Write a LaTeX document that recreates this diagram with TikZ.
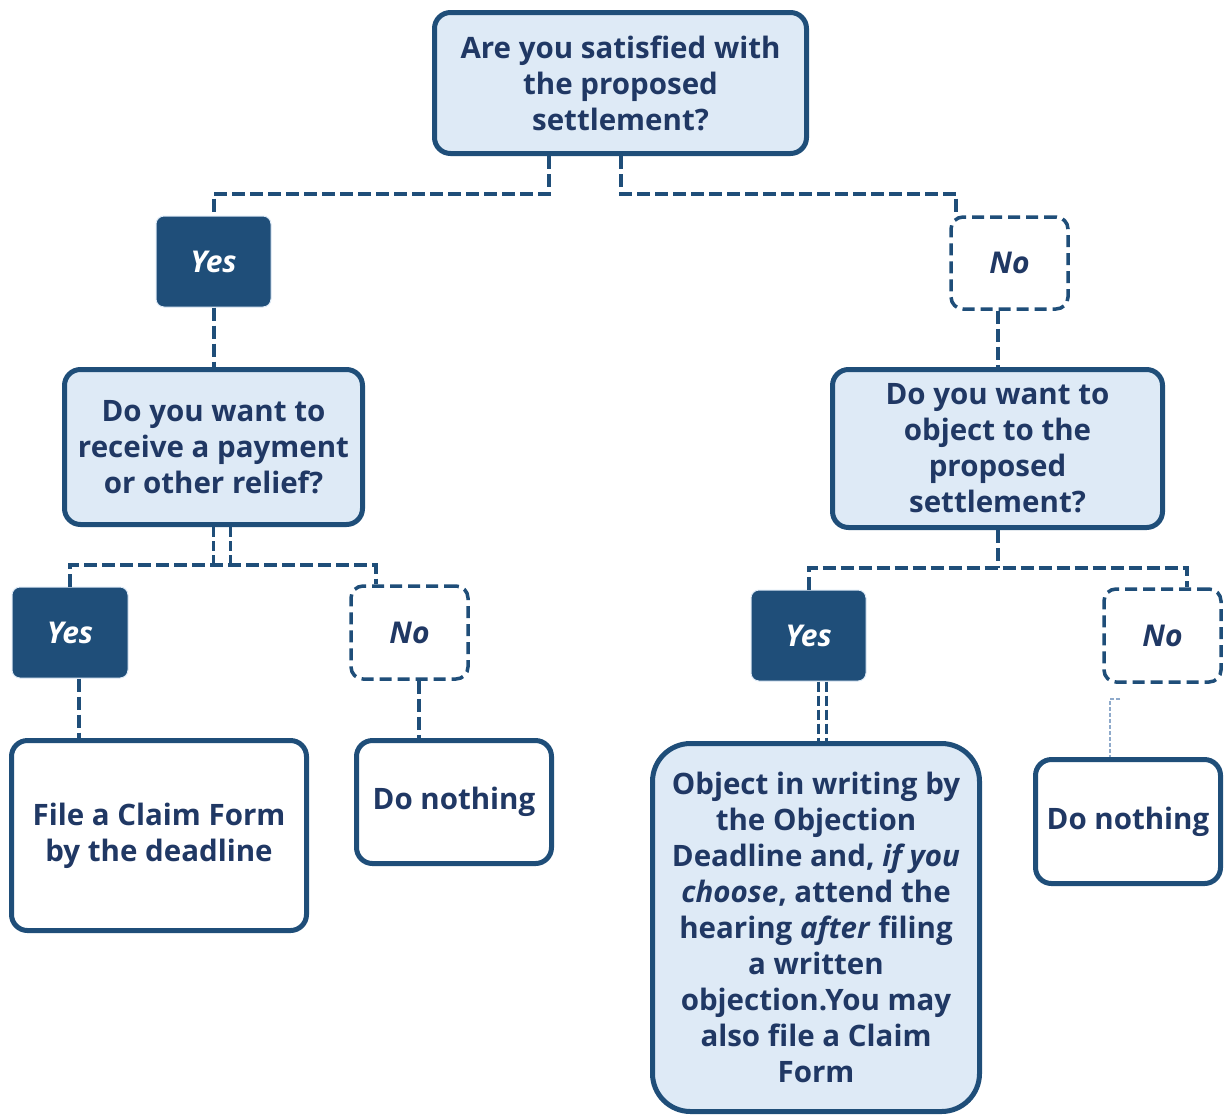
\documentclass[tikz,border=0pt]{standalone}
\usepackage{fontspec}
\setmainfont{Open Sans}
\definecolor{navy}{HTML}{1F4E79}
\definecolor{txt}{HTML}{203864}
\definecolor{lfill}{HTML}{DEEAF6}
\definecolor{thinc}{HTML}{8FAACB}
\tikzset{
  txtfont/.style={font=\bfseries\fontsize{29.5}{36}\selectfont},
  qbox/.style={draw=navy, line width=5pt, fill=lfill, rounded corners=16pt, text=txt, txtfont, align=center, inner sep=0pt},
  wbox/.style={qbox, fill=white},
  yesbox/.style={draw=lfill, line width=1pt, fill=navy, rounded corners=8pt, text=white, font=\bfseries\itshape\fontsize{30}{36}\selectfont, inner sep=0pt},
  nobox/.style={draw=navy, line width=3.5pt, dash pattern=on 12pt off 6pt, fill=white, rounded corners=12pt, text=txt, font=\bfseries\itshape\fontsize{30}{36}\selectfont, inner sep=0pt},
  conn/.style={draw=navy, line width=4pt, dash pattern=on 13pt off 5pt},
  dline/.style={draw=navy, line width=3pt, dash pattern=on 10pt off 4pt},
  thinline/.style={draw=thinc, line width=1.5pt, dash pattern=on 4pt off 2pt},
}
\begin{document}
\begin{tikzpicture}[x=1pt,y=-1pt]
\useasboundingbox (0,0) rectangle (1225,1117);

\node[qbox, minimum width=372pt, minimum height=141pt] (top) at (620.5,83) {Are you satisfied with\\the proposed\\settlement?};
\node[yesbox, minimum width=115pt, minimum height=91pt] (yes1) at (213.5,261.5) {Yes};
\node[nobox, minimum width=117pt, minimum height=92pt] (no1) at (1009.5,263) {No};
\node[qbox, minimum width=298pt, minimum height=155pt] (q2l) at (213.5,447) {Do you want to\\receive a payment\\or other relief?};
\node[qbox, minimum width=330pt, minimum height=158pt] (q2r) at (997.5,448.5) {Do you want to\\object to the\\proposed\\settlement?};
\node[yesbox, minimum width=116pt, minimum height=91pt] (yes2l) at (70,632.5) {Yes};
\node[nobox, minimum width=117pt, minimum height=93pt] (no2l) at (409.5,632.5) {No};
\node[wbox, minimum width=295pt, minimum height=190pt] (file) at (159,835.5) {File a Claim Form\\by the deadline};
\node[wbox, minimum width=195pt, minimum height=123pt] (dol) at (454,802) {Do nothing};
\node[yesbox, minimum width=115pt, minimum height=91pt] (yesr) at (808.5,635.5) {Yes};
\node[nobox, minimum width=117pt, minimum height=93pt] (nor) at (1162.5,635.5) {No};
\node[qbox, rounded corners=38pt, minimum width=327pt, minimum height=368pt] (obj) at (816,927.5) {Object in writing by\\the Objection\\Deadline and, \textit{if you}\\\textit{choose}, attend the\\hearing \textit{after} filing\\a written\\objection.You may\\also file a Claim\\Form};
\node[wbox, minimum width=185pt, minimum height=124pt] (dor) at (1128,821.5) {Do nothing};

% top branches
\draw[conn] ([xshift=-71.5pt]top.south) -- ++(0,37.5) -| (yes1.north);
\draw[conn] (top.south) -- ++(0,37.5) -| ([xshift=-53.5pt]no1.north);
\draw[conn] (yes1.south) -- (q2l.north);
\draw[conn] (q2r.north |- no1.south) -- (q2r.north);

% left sub-tree
\coordinate (hl) at ([yshift=-37.5pt]q2l.south);
\draw[dline] ([xshift=-0.5pt]q2l.south) -- ([xshift=-0.5pt]hl);
\draw[dline] ([xshift=16.5pt]q2l.south) -- ([xshift=16.5pt]hl);
\draw[conn] (yes2l.north) |- (hl) -| ([xshift=-33.5pt]no2l.north);
\draw[conn] ([xshift=9pt]yes2l.south) -- ([xshift=9pt]yes2l.south |- file.north);
\draw[conn] ([xshift=9.5pt]no2l.south) -- ([xshift=9.5pt]no2l.south |- dol.north);

% right sub-tree
\coordinate (hr) at ([yshift=-37.5pt]q2r.south);
\draw[conn] (q2r.south) -- (hr);
\draw[conn] (yesr.north) |- (hr) -| ([xshift=24.5pt]nor.north);
\draw[dline] ([xshift=9.5pt]yesr.south) -- ([xshift=9.5pt]yesr.south |- obj.north);
\draw[dline] ([xshift=17.5pt]yesr.south) -- ([xshift=17.5pt]yesr.south |- obj.north);
\coordinate (nrA) at ([xshift=-42.5pt,yshift=-15pt]nor.south);
\draw[thinline] (nrA) -- ++(-10,0) coordinate (nrB) -- (nrB |- dor.north);
\end{tikzpicture}
\end{document}
